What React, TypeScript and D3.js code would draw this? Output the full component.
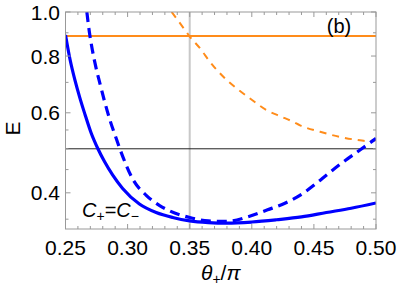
import React from 'react';
import * as d3 from 'd3';

const xMajorTicks = [0.25, 0.3, 0.35, 0.4, 0.45, 0.5];
const xMinorTicks = [0.26, 0.27, 0.28, 0.29, 0.31, 0.32, 0.33, 0.34, 0.36, 0.37, 0.38, 0.39, 0.41, 0.42, 0.43, 0.44, 0.46, 0.47, 0.48, 0.49];
const yMajorTicks = [0.4, 0.6, 0.8, 1.0];
const yMinorTicks = [0.35, 0.45, 0.5, 0.55, 0.7, 0.9];

const solidBlueX = [0.25, 0.2537, 0.2576, 0.2615, 0.2657, 0.2705, 0.2761, 0.2815, 0.2879, 0.296, 0.3095, 0.323, 0.3363, 0.35, 0.365, 0.38, 0.4, 0.42, 0.44, 0.46, 0.48, 0.5];
const solidBlueE = [0.89, 0.785, 0.708, 0.648, 0.595, 0.543, 0.5, 0.468, 0.438, 0.409, 0.378, 0.362, 0.353, 0.347, 0.344, 0.343, 0.345, 0.349, 0.354, 0.362, 0.37, 0.38];

const dashedBlueX = [0.2672, 0.2693, 0.2718, 0.2745, 0.2778, 0.2815, 0.2858, 0.2905, 0.2962, 0.3043, 0.315, 0.3258, 0.3339, 0.35, 0.365, 0.38, 0.3966, 0.4127, 0.4262, 0.44, 0.4549, 0.471, 0.4871, 0.5];
const dashedBlueE = [1.0, 0.9, 0.82, 0.755, 0.695, 0.635, 0.578, 0.53, 0.48, 0.428, 0.395, 0.375, 0.365, 0.353, 0.347, 0.346, 0.354, 0.367, 0.379, 0.397, 0.426, 0.462, 0.497, 0.527];

const dashedOrangeX = [0.3355, 0.3449, 0.3502, 0.3583, 0.3663, 0.3771, 0.3878, 0.3986, 0.412, 0.4227, 0.4334, 0.4388, 0.455, 0.471, 0.4871, 0.4925, 0.5];
const dashedOrangeE = [1.0, 0.923, 0.882, 0.832, 0.777, 0.72, 0.679, 0.645, 0.608, 0.59, 0.573, 0.563, 0.545, 0.531, 0.522, 0.52, 0.522];

const orangeLevel = 0.885;
const blackLevel = 0.5;
const verticalX = 0.35;

const W = 399;
const H = 290;
const left = 65.5;
const right = 376;
const top = 12;
const bottom = 229;

export default function App() {
  const x = d3.scaleLinear().domain([0.25, 0.5]).range([left, right]);
  const y = d3.scaleLog().domain([0.333, 1.0]).range([bottom, top]);
  const line = d3
    .line<[number, number]>()
    .x((d) => x(d[0]))
    .y((d) => y(d[1]))
    .curve(d3.curveMonotoneX);
  const zip = (a: number[], b: number[]) => a.map((v, i) => [v, b[i]] as [number, number]);
  const font = '"Liberation Sans", Arial, sans-serif';
  const axisColor = '#999';

  return (
    <svg width={W} height={H} style={{ position: 'fixed', left: 0, top: 0, background: '#fff' }} fontFamily={font}>
      <defs>
        <clipPath id="plotClip">
          <rect x={left} y={top} width={right - left} height={bottom - top} />
        </clipPath>
      </defs>
      <rect x={0} y={0} width={W} height={H} fill="#fff" />
      <g clipPath="url(#plotClip)">
        <line x1={x(verticalX)} x2={x(verticalX)} y1={top} y2={bottom} stroke="#c8c8c8" strokeWidth={2} />
        <line x1={left} x2={right} y1={y(blackLevel)} y2={y(blackLevel)} stroke="#222" strokeWidth={1} />
        <line x1={left} x2={right} y1={y(orangeLevel)} y2={y(orangeLevel)} stroke="#ff8c1a" strokeWidth={2} />
        <path d={line(zip(dashedOrangeX, dashedOrangeE)) || ''} fill="none" stroke="#ff8c1a" strokeWidth={2} strokeDasharray="7,6" />
        <path d={line(zip(solidBlueX, solidBlueE)) || ''} fill="none" stroke="#0000ff" strokeWidth={3.2} />
        <path d={line(zip(dashedBlueX, dashedBlueE)) || ''} fill="none" stroke="#0000ff" strokeWidth={3.2} strokeDasharray="10,6" />
      </g>
      <rect x={left} y={top} width={right - left} height={bottom - top} fill="none" stroke={axisColor} strokeWidth={1} />
      {xMajorTicks.map((t) => (
        <g key={'xm' + t}>
          <line x1={x(t)} x2={x(t)} y1={bottom} y2={bottom - 5} stroke={axisColor} />
          <line x1={x(t)} x2={x(t)} y1={top} y2={top + 5} stroke={axisColor} />
          <text x={x(t)} y={255} textAnchor="middle" fontSize={21} fill="#000">
            {t.toFixed(2)}
          </text>
        </g>
      ))}
      {xMinorTicks.map((t) => (
        <g key={'xn' + t}>
          <line x1={x(t)} x2={x(t)} y1={bottom} y2={bottom - 3} stroke={axisColor} />
          <line x1={x(t)} x2={x(t)} y1={top} y2={top + 3} stroke={axisColor} />
        </g>
      ))}
      {yMajorTicks.map((t) => (
        <g key={'ym' + t}>
          <line x1={left} x2={left + 5} y1={y(t)} y2={y(t)} stroke={axisColor} />
          <line x1={right} x2={right - 5} y1={y(t)} y2={y(t)} stroke={axisColor} />
          <text x={60} y={y(t) + 7.5} textAnchor="end" fontSize={21} fill="#000">
            {t.toFixed(1)}
          </text>
        </g>
      ))}
      {yMinorTicks.map((t) => (
        <g key={'yn' + t}>
          <line x1={left} x2={left + 3} y1={y(t)} y2={y(t)} stroke={axisColor} />
          <line x1={right} x2={right - 3} y1={y(t)} y2={y(t)} stroke={axisColor} />
        </g>
      ))}
      <text transform={`translate(20,${(top + bottom) / 2 + 8}) rotate(-90)`} textAnchor="middle" fontSize={21} fill="#000">
        E
      </text>
      <text x={(left + right) / 2} y={280} textAnchor="middle" fontSize={21} fill="#000">
        <tspan fontStyle="italic">θ</tspan>
        <tspan fontSize={14} dy={4}>+</tspan>
        <tspan dy={-4}>/</tspan>
        <tspan fontStyle="italic">π</tspan>
      </text>
      <text x={82} y={217} fontSize={20} fill="#000">
        <tspan fontStyle="italic">C</tspan>
        <tspan fontSize={14} dy={4}>+</tspan>
        <tspan dy={-4}>=</tspan>
        <tspan fontStyle="italic">C</tspan>
        <tspan fontSize={14} dy={4}>−</tspan>
      </text>
      <text x={339} y={33} textAnchor="middle" fontSize={20} fill="#000">
        (b)
      </text>
    </svg>
  );
}
